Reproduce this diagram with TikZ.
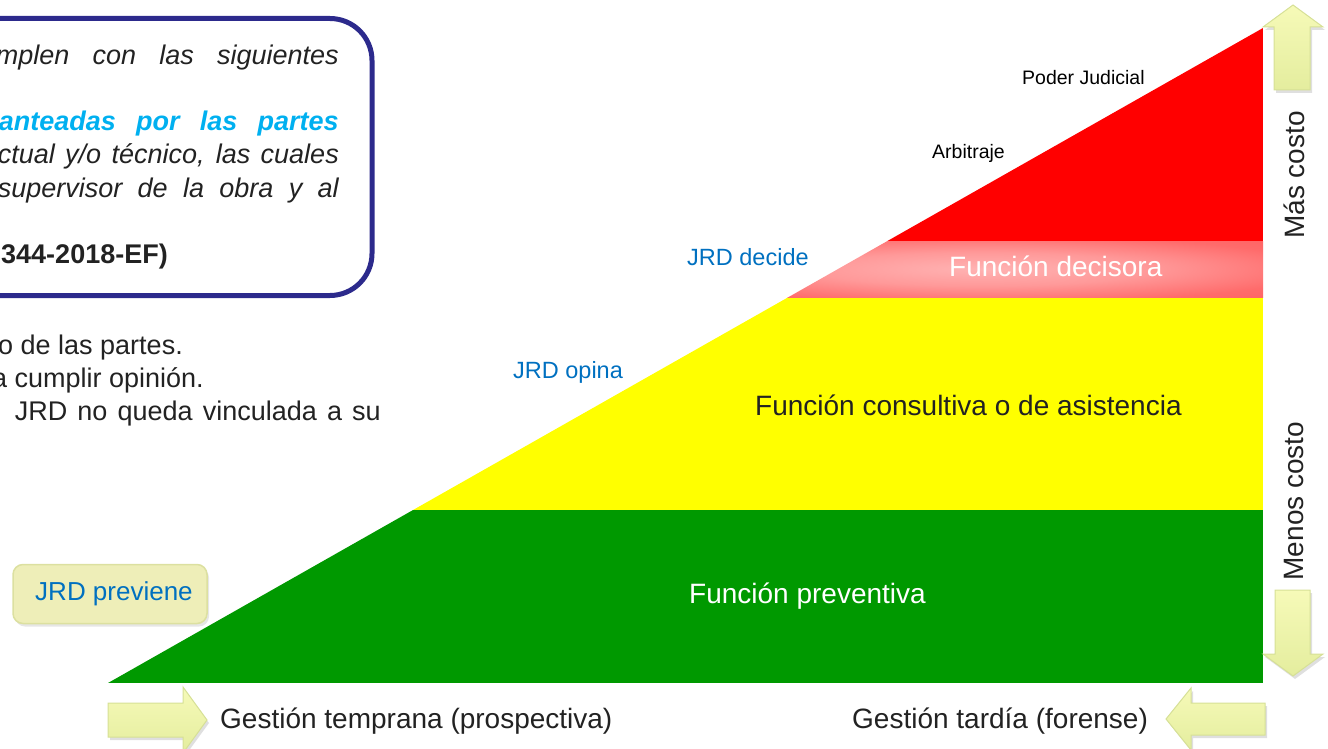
\documentclass[tikz,border=0pt]{standalone}
\usepackage{fontspec}
\setmainfont{Liberation Sans}
\usetikzlibrary{shadows}
\definecolor{jrdgreen}{RGB}{0,153,0}
\definecolor{jrdyellow}{RGB}{255,255,0}
\definecolor{jrdred}{RGB}{255,0,0}
\definecolor{jrdnavy}{RGB}{44,42,140}
\definecolor{jrdblue}{RGB}{0,112,192}
\definecolor{jrdcyan}{RGB}{0,176,240}
\definecolor{jrddark}{RGB}{34,34,34}
\definecolor{arrowtop}{RGB}{246,250,184}
\definecolor{arrowbot}{RGB}{228,237,158}
\definecolor{arrowline}{RGB}{214,224,150}
\definecolor{prevfill}{RGB}{238,238,184}
\definecolor{prevline}{RGB}{220,224,160}
\pgfdeclareradialshading{decisora}{\pgfpointorigin}{rgb(0bp)=(1,0.70,0.70); rgb(15bp)=(1,0.60,0.60); rgb(30bp)=(1,0.42,0.42); rgb(50bp)=(1,0.34,0.34)}
\tikzset{
    bandtext/.style={font=\fontsize{28}{34}\selectfont, inner sep=0, anchor=base west},
    jrdtext/.style={font=\fontsize{23.5}{28}\selectfont, text=jrdblue, inner sep=0, anchor=base west},
    smalltext/.style={font=\fontsize{19.5}{24}\selectfont, inner sep=0, anchor=base west},
    bodytext/.style={font=\fontsize{27}{33}\selectfont, text=jrddark, inner sep=0, anchor=base east},
    blockarrow/.style={top color=arrowtop, bottom color=arrowbot, draw=arrowline, line width=1pt,
        drop shadow={shadow xshift=2pt, shadow yshift=-3pt, opacity=.25}},
}
\begin{document}
\begin{tikzpicture}[x=1pt,y=-1pt]
\useasboundingbox (0,0) rectangle (1328,749);
\clip (0,0) rectangle (1328,749);
%bands
\begin{scope}
\clip (108,683) -- (1263,28) -- (1263,683) -- cycle;
\path[fill=jrdgreen] (100,510) rectangle (1263,683);
\path[fill=jrdyellow] (100,297) rectangle (1263,510);
\path[shading=decisora] (700,241) rectangle (1263,297);
\path[fill=jrdred] (100,20) rectangle (1263,241);
\end{scope}
\node[bandtext, text=white] (prev) at (689,603) {Función preventiva};
\node[bandtext, text=jrddark] (cons) at (755,415) {Función consultiva o de asistencia};
\node[bandtext, text=white] (deci) at (949,276) {Función decisora};
%labels
\node[jrdtext] (opina) at (513,378) {JRD opina};
\node[jrdtext] (decide) at (687,265) {JRD decide};
\node[smalltext] (arbi) at (932,159) {Arbitraje};
\node[smalltext] (poder) at (1022,85) {Poder Judicial};
\node[fill=prevfill, draw=prevline, line width=1.5pt, rounded corners=10pt,
    minimum width=194pt, minimum height=59pt, font=\fontsize{26}{31}\selectfont, text=jrdblue,
    drop shadow={shadow xshift=2pt, shadow yshift=-3pt, opacity=.2}] (jrdprev) at (110,594) {\hspace*{8pt}JRD previene};
%text box
\draw[jrdnavy, line width=5pt, rounded corners=42pt] (-60,18.5) rectangle (372,295.5);
\foreach \w/\y/\t in {343/65/{mplen con las siguientes}, 341/164/{ctual y/o técnico, las cuales}, 341/197/{supervisor de la obra y al}}{
    \node[bodytext, font=\fontsize{27}{33}\selectfont\itshape] (it\y) at (339,\y) {\makebox[\w pt][s]{\t}};
}
\node[bodytext, text=jrdcyan, font=\fontsize{27}{33}\selectfont\bfseries\itshape] (cyan) at (339,131) {\makebox[340pt][s]{anteadas por las partes}};
\node[bodytext, font=\fontsize{27}{33}\selectfont\bfseries] (ds) at (168,263) {344-2018-EF)};
%below box
\node[bodytext] (partes) at (183,354) {o de las partes.};
\node[bodytext] (cumplir) at (204,387) {a cumplir opinión.};
\node[bodytext] (vinc) at (381,420) {\makebox[366pt][s]{JRD no queda vinculada a su}};
%arrows
\path[blockarrow] (1293,5) -- (1323,27) -- (1310,27) -- (1310,90) -- (1274,90) -- (1274,27) -- (1263,27) -- cycle;
\path[blockarrow] (1275,590) -- (1310,590) -- (1310,654) -- (1323,654) -- (1293,676) -- (1263,654) -- (1275,654) -- cycle;
\path[blockarrow] (108,703) -- (183,703) -- (183,687) -- (207,720) -- (183,753) -- (183,737) -- (108,737) -- cycle;
\path[blockarrow] (1265,703) -- (1191,703) -- (1191,688) -- (1166,719) -- (1191,750) -- (1191,735) -- (1265,735) -- cycle;
\node[bandtext, text=jrddark] (early) at (220,728) {Gestión temprana (prospectiva)};
\node[bandtext, text=jrddark] (late) at (852,728) {Gestión tardía (forense)};
\node[font=\fontsize{28}{34}\selectfont, text=jrddark, rotate=90, inner sep=0] (mas) at (1294,175) {Más costo};
\node[font=\fontsize{28}{34}\selectfont, text=jrddark, rotate=90, inner sep=0] (menos) at (1294,501) {Menos costo};
\end{tikzpicture}
\end{document}
